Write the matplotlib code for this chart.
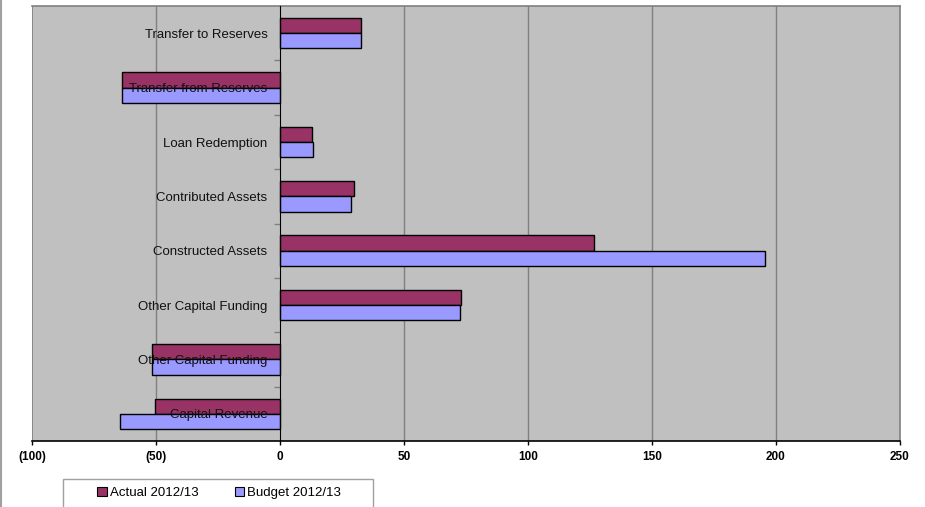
import matplotlib
matplotlib.use('Agg')
import matplotlib.pyplot as plt
from matplotlib.patches import Patch, Rectangle
from matplotlib.lines import Line2D
import numpy as np

# Capital statement items, bottom to top
categories = [
    'Capital Revenue',
    'Other Capital Funding',
    'Other Capital Funding',
    'Constructed Assets',
    'Contributed Assets',
    'Loan Redemption',
    'Transfer from Reserves',
    'Transfer to Reserves',
]
actual = [-50.5, -51.5, 73.1, 126.6, 29.8, 12.9, -63.6, 32.7]
budget = [-64.7, -51.5, 72.7, 195.4, 28.6, 13.2, -63.6, 32.7]
series_names = ['Actual 2012/13', 'Budget 2012/13']
x_ticks = [-100, -50, 0, 50, 100, 150, 200, 250]
x_tick_labels = ['(100)', '(50)', '0', '50', '100', '150', '200', '250']

ACTUAL_COLOR = '#993366'
BUDGET_COLOR = '#9999FF'
PLOT_BG = '#C0C0C0'
GRID = '#808080'

plt.rcParams['font.family'] = ['Liberation Sans', 'DejaVu Sans']

fig = plt.figure(figsize=(9.25, 5.07), dpi=100)
ax = fig.add_axes([32 / 925, 1 - 441 / 507, 868 / 925, 435 / 507])
ax.set_facecolor(PLOT_BG)

y = np.arange(len(categories))
bar_h = 0.28
ax.barh(y + bar_h / 2, actual, height=bar_h, color=ACTUAL_COLOR,
        edgecolor='black', linewidth=1, zorder=3)
ax.barh(y - bar_h / 2, budget, height=bar_h, color=BUDGET_COLOR,
        edgecolor='black', linewidth=1, zorder=3)

ax.set_xlim(-100, 250)
ax.set_ylim(-0.5, len(categories) - 0.5)

# vertical gridlines
for gx in x_ticks[1:-1]:
    if gx != 0:
        ax.axvline(gx, color=GRID, linewidth=1, zorder=1)

ax.set_xticks(x_ticks)
ax.set_xticklabels(x_tick_labels, fontsize=8.5, fontweight='bold')
ax.tick_params(axis='x', length=3, width=1, pad=4, color='black')

# category axis sits at zero, ticks between categories
ax.spines['left'].set_position(('data', 0))
ax.spines['left'].set_color('black')
ax.spines['left'].set_zorder(4)
ax.set_yticks(np.arange(len(categories) - 1) + 0.5)
ax.set_yticklabels([])
ax.tick_params(axis='y', length=4, width=1, direction='out', color=GRID)

ax.spines['bottom'].set_color('black')
ax.spines['bottom'].set_linewidth(1.2)
for side in ('top', 'right'):
    ax.spines[side].set_color(GRID)
    ax.spines[side].set_linewidth(1.2)
ax.axvline(-100, color=GRID, linewidth=1.2, zorder=2)

for yi, name in zip(y, categories):
    ax.annotate(name, xy=(0, yi), xytext=(-9, -1.2), textcoords='offset points',
                ha='right', va='center', fontsize=9.5, color='#111111', zorder=5)

# legend in a box running off the bottom edge
fig.patches.append(Rectangle((63 / 925, 1 - 508 / 507), 310 / 925, 29 / 507,
                             transform=fig.transFigure, facecolor='white',
                             edgecolor='#A0A0A0', linewidth=1))
handles = [Patch(facecolor=ACTUAL_COLOR, edgecolor='black', linewidth=0.8),
           Patch(facecolor=BUDGET_COLOR, edgecolor='black', linewidth=0.8)]
fig.legend(handles, series_names, loc='center', ncol=2,
           bbox_to_anchor=(219 / 925, 1 - 493 / 507), frameon=False,
           fontsize=9.5, handlelength=0.75, handleheight=0.75,
           handletextpad=0.2, columnspacing=2.75)

fig.add_artist(Line2D([1 / 925, 1 / 925], [0, 1], color='#A0A0A0',
                      linewidth=1.5, transform=fig.transFigure))

fig.savefig('out.png', dpi=100)
